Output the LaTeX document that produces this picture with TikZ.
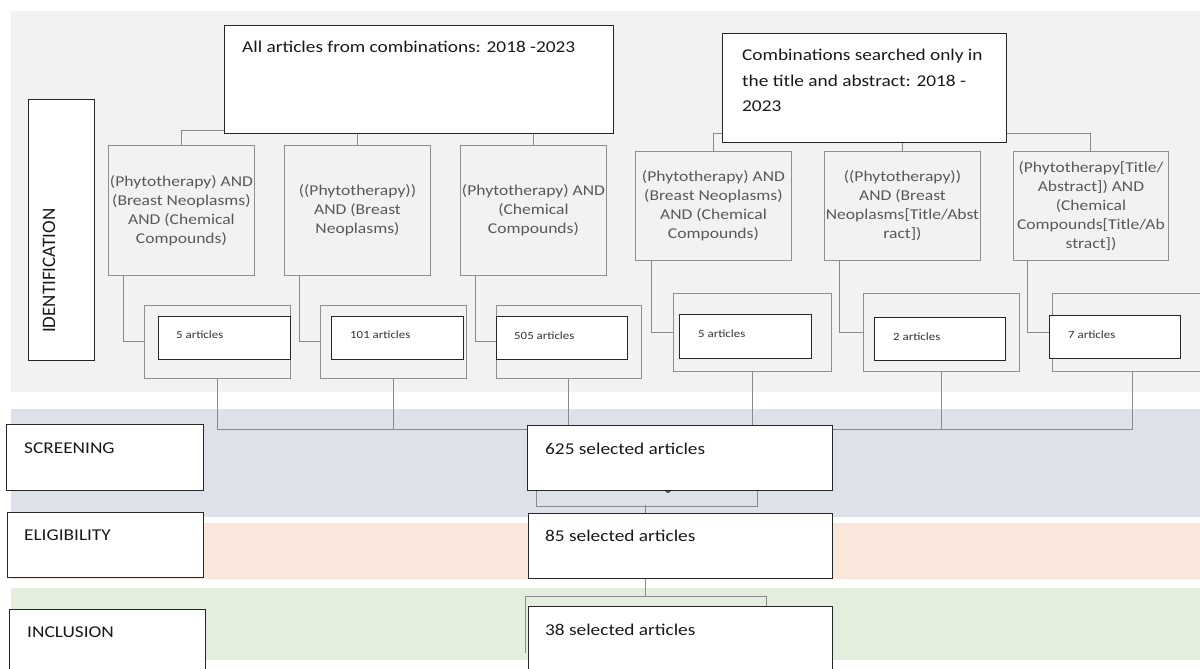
\documentclass[tikz,border=0pt]{standalone}
\usepackage{fontspec}
\setmainfont{Carlito}[FakeStretch=1.17]
\newfontfamily\identfont{Carlito}
\definecolor{bandgrey}{HTML}{F2F2F2}
\definecolor{bandblue}{HTML}{DCE1EA}
\definecolor{bandorange}{HTML}{FBE6DB}
\definecolor{bandgreen}{HTML}{E3EEDC}
\definecolor{boxgrey}{HTML}{8F8F8F}
\definecolor{txtgrey}{HTML}{595959}
\definecolor{linegrey}{HTML}{8A8A8A}
\definecolor{darkline}{HTML}{262626}
\pgfdeclarelayer{bands}
\pgfdeclarelayer{lines}
\pgfsetlayers{bands,lines,main}
\begin{document}
\begin{tikzpicture}[x=1pt,y=-1pt,
  dbox/.style={draw=darkline, line width=1.1pt, fill=white, anchor=north west, inner sep=0pt},
  gbox/.style={draw=boxgrey, line width=0.9pt, fill=bandgrey, anchor=north west, inner sep=1pt,
    text=txtgrey, align=center, font=\fontsize{15}{19}\selectfont},
  obox/.style={draw=boxgrey, line width=0.9pt, fill=bandgrey, anchor=north west, inner sep=0pt},
  ibox/.style={draw=darkline, line width=1.4pt, fill=white, anchor=north west, inner sep=0pt},
  conn/.style={draw=linegrey, line width=1pt},
  lbl/.style={anchor=base west, inner sep=0pt, text=black!90, font=\fontsize{16.5}{20}\selectfont},
  small/.style={anchor=base west, inner sep=0pt, text=black!80, font=\fontsize{11}{13}\selectfont}
]
\useasboundingbox (0,0) rectangle (1200,669);
\clip (0,0) rectangle (1200,669);

\begin{pgfonlayer}{bands}
  \fill[white] (0,0) rectangle (1200,669);
  \fill[bandgrey] (11,11) rectangle (1200,392);
  \fill[bandblue] (11,409) rectangle (1200,517);
  \fill[bandorange] (11,523) rectangle (1200,579);
  \fill[bandgreen] (11,588) rectangle (1200,660);
\end{pgfonlayer}

% phase labels
\node[dbox, minimum width=66pt, minimum height=261pt] (ident) at (28,99) {};
\node[rotate=90, anchor=base west, inner sep=0pt, text=black!90, font=\identfont\fontsize{19}{22}\selectfont] (identtxt) at (55,333) {IDENTIFICATION};
\node[dbox, minimum width=197pt, minimum height=66pt] (scr) at (6,424) {};
\node[lbl] (scrtxt) at (24,453) {SCREENING};
\node[dbox, minimum width=196pt, minimum height=65pt] (eli) at (7,512) {};
\node[lbl] (elitxt) at (24,540.5) {ELIGIBILITY};
\node[dbox, minimum width=196pt, minimum height=80pt] (inc) at (9,609) {};
\node[lbl] (inctxt) at (27,637) {INCLUSION};

% top boxes
\node[dbox, minimum width=389pt, minimum height=108pt] (top1) at (224,25) {};
\node[lbl] (top1txt) at (242,53) {All articles from combinations: 2018 -2023};
\node[dbox, minimum width=284pt, minimum height=109pt] (top2) at (722,33) {};
\node[anchor=north west, inner sep=0pt, align=left, text=black!90, font=\fontsize{16.5}{25.5}\selectfont] (top2txt) at (742,49)
  {Combinations searched only in\\the title and abstract: 2018 -\\2023};

% query boxes
\node[gbox, minimum width=146pt, minimum height=130pt] (c1) at (108,145) {(Phytotherapy) AND\\(Breast Neoplasms)\\AND (Chemical\\Compounds)};
\node[gbox, minimum width=146pt, minimum height=130pt] (c2) at (284,145) {((Phytotherapy))\\AND (Breast\\Neoplasms)};
\node[gbox, minimum width=146pt, minimum height=130pt] (c3) at (460,145) {(Phytotherapy) AND\\(Chemical\\Compounds)};
\node[gbox, minimum width=156pt, minimum height=109pt] (c4) at (635,151) {(Phytotherapy) AND\\(Breast Neoplasms)\\AND (Chemical\\Compounds)};
\node[gbox, minimum width=156pt, minimum height=109pt] (c5) at (824,151) {((Phytotherapy))\\AND (Breast\\Neoplasms[Title/Abst\\ract])};
\node[gbox, minimum width=155pt, minimum height=109pt] (c6) at (1013,151) {(Phytotherapy[Title/\\Abstract]) AND\\(Chemical\\Compounds[Title/Ab\\stract])};

% count boxes
\node[obox, minimum width=146pt, minimum height=73pt] (o1) at (144,305) {};
\node[ibox, minimum width=132pt, minimum height=43pt] (i1) at (158,316) {};
\node[small] (i1txt) at (176,338.3) {5 articles};
\node[obox, minimum width=146pt, minimum height=73pt] (o2) at (320,305) {};
\node[ibox, minimum width=132pt, minimum height=43pt] (i2) at (331,316) {};
\node[small] (i2txt) at (350,338.5) {101 articles};
\node[obox, minimum width=145pt, minimum height=73pt] (o3) at (496,305) {};
\node[ibox, minimum width=131pt, minimum height=43pt] (i3) at (496,316) {};
\node[small] (i3txt) at (514,339.3) {505 articles};
\node[obox, minimum width=158pt, minimum height=78pt] (o4) at (673,293) {};
\node[ibox, minimum width=132pt, minimum height=44pt] (i4) at (679,314) {};
\node[small] (i4txt) at (698,337.5) {5 articles};
\node[obox, minimum width=156pt, minimum height=78pt] (o5) at (863,293) {};
\node[ibox, minimum width=131pt, minimum height=43pt] (i5) at (874,317) {};
\node[small] (i5txt) at (893,340) {2 articles};
\node[obox, minimum width=160pt, minimum height=78pt] (o6) at (1052,293) {};
\node[ibox, minimum width=131pt, minimum height=43pt] (i6) at (1049,315) {};
\node[small] (i6txt) at (1068,338.3) {7 articles};

% result boxes
\fill[black!70] (668,490) circle (3pt);
\node[dbox, minimum width=305pt, minimum height=65pt] (s625) at (527,425) {};
\node[lbl] (s625txt) at (545,454) {625 selected articles};
\node[dbox, minimum width=304pt, minimum height=65pt] (s85) at (528,513) {};
\node[lbl] (s85txt) at (545,541.5) {85 selected articles};
\node[dbox, minimum width=304pt, minimum height=80pt] (s38) at (528,606) {};
\node[lbl] (s38txt) at (545,635) {38 selected articles};

\coordinate (bus) at (0,429);

\begin{pgfonlayer}{lines}
  % top hierarchy
  \draw[conn] (c1.north) -- ++(0,-15) -| (c3.north);
  \draw[conn] (c2.north) -- ++(0,-15);
  \draw[conn] (c4.north) -- ++(0,-18) -| (c6.north);
  \draw[conn] (c5.north) -- ++(0,-18);
  % query -> count
  \draw[conn] ([xshift=15pt]c1.south west) |- (o1.west);
  \draw[conn] ([xshift=15pt]c2.south west) |- (o2.west);
  \draw[conn] ([xshift=15pt]c3.south west) |- (o3.west);
  \draw[conn] ([xshift=16pt]c4.south west) |- (o4.west);
  \draw[conn] ([xshift=15pt]c5.south west) |- (o5.west);
  \draw[conn] ([xshift=14pt]c6.south west) |- (o6.west);
  % count -> 625
  \draw[conn] (o1.south) -- (o1.south |- bus) -- (o6.south |- bus) -- (o6.south);
  \draw[conn] (o2.south) -- (o2.south |- bus);
  \draw[conn] (o3.south) -- (o3.south |- bus);
  \draw[conn] (o4.south) -- (o4.south |- bus);
  \draw[conn] (o5.south) -- (o5.south |- bus);
  % 625 -> 85
  \draw[conn] ([xshift=9pt]s625.south west) -- ++(0,15) -| ([xshift=-76pt]s625.south east);
  \draw[conn] ([xshift=117pt]s85.north west) -- ++(0,-8);
  % 85 -> 38
  \draw[conn] ([xshift=117pt]s85.south west) -- ++(0,18);
  \draw[conn] ([xshift=-3pt,yshift=-47pt]s38.north west) -- ++(0,-57) -| ([xshift=238pt]s38.north west);
\end{pgfonlayer}
\end{tikzpicture}
\end{document}
